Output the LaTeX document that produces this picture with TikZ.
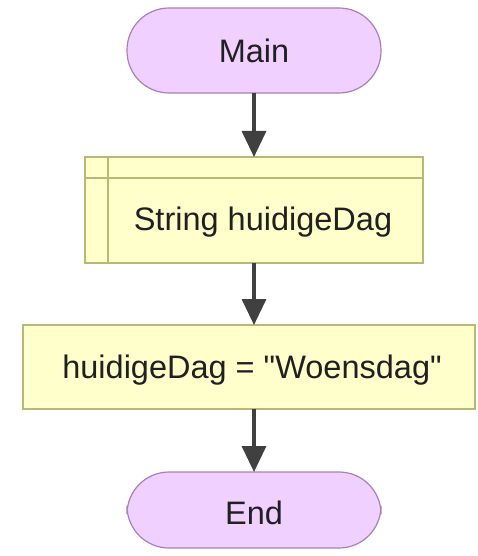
\documentclass[tikz,border=0pt]{standalone}
\usepackage{fontspec}
\setmainfont{Liberation Sans}[Ligatures=TeXOff]
\usetikzlibrary{arrows.meta}
\definecolor{termfill}{HTML}{F0D0FF}
\definecolor{termdraw}{HTML}{A880B8}
\definecolor{boxfill}{HTML}{FFFFCC}
\definecolor{boxdraw}{HTML}{B8B878}
\definecolor{arrowc}{HTML}{404040}
\definecolor{txt}{HTML}{202020}
\begin{document}
\begin{tikzpicture}[x=1pt,y=-1pt,
  lbl/.style={font=\fontsize{32.5}{38}\selectfont, text=txt, inner sep=0pt},
  terminal/.style={rounded corners=42pt, fill=termfill, draw=termdraw, line width=1.2pt},
  procbox/.style={fill=boxfill, draw=boxdraw, line width=1.5pt},
  flow/.style={draw=arrowc, line width=3.5pt, -{Triangle[length=26pt,width=24pt]}, shorten >=0pt}]
\useasboundingbox (0,0) rectangle (477,556);
% Main
\draw[terminal] (127,8) rectangle (381,93);
\node[lbl] (main) at (254,51) {Main};
\coordinate (mainb) at (254,93);
% Declaration
\draw[procbox] (85,157) rectangle (423,263);
\draw[boxdraw, line width=1.5pt] (85,178) -- (423,178);
\draw[boxdraw, line width=1.5pt] (108,157) -- (108,263);
\node[lbl] (decl) at (263,222) {String huidigeDag};
\coordinate (declt) at (254,157);
\coordinate (declb) at (254,263);
% Assignment
\draw[procbox] (23,325) rectangle (475,409);
\node[lbl] (assign) at (252,370) {huidigeDag = "Woensdag"};
\coordinate (asst) at (254,325);
\coordinate (assb) at (254,409);
% End
\draw[terminal] (127,472) rectangle (381,548);
\node[lbl] (end) at (254,513) {End};
\coordinate (endt) at (254,472);
% arrows
\draw[flow] (mainb) -- (declt);
\draw[flow] (declb) -- (asst);
\draw[flow] (assb) -- (endt);
\end{tikzpicture}
\end{document}
